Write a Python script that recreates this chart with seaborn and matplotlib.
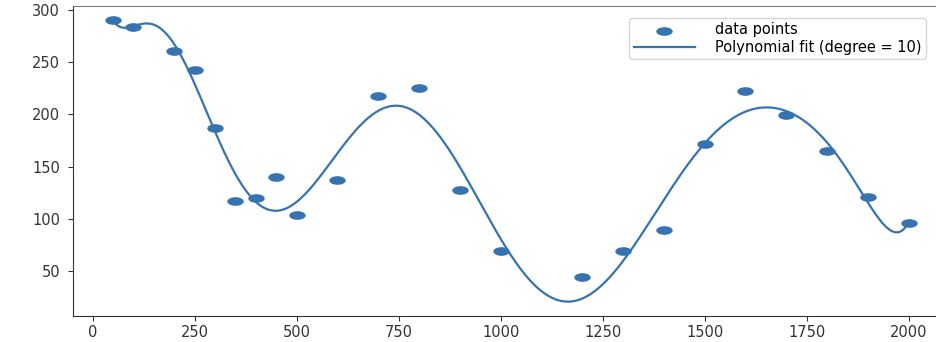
import numpy as np
import pandas as pd
import matplotlib
matplotlib.use("Agg")
import matplotlib.pyplot as plt
from matplotlib.path import Path
from matplotlib.transforms import Affine2D
import seaborn as sns

# data points
x_vals = [50, 100, 200, 250, 300, 350, 400, 450, 500, 600, 700, 800,
          900, 1000, 1200, 1300, 1400, 1500, 1600, 1700, 1800, 1900, 2000]
y_vals = [290, 284, 261, 242, 187, 117, 120, 140, 104, 137, 218, 225,
          128, 69, 45, 69, 89, 172, 222, 199, 165, 121, 96]
degree = 10

df = pd.DataFrame({"x": x_vals, "y": y_vals})

# polynomial fit through the points
poly = np.polynomial.Polynomial.fit(df["x"], df["y"], degree)
x_fit = np.linspace(min(x_vals), max(x_vals), 400)
fit_df = pd.DataFrame({"x": x_fit, "y": poly(x_fit)})

color = "#3773b0"

# the reference is horizontally stretched, so use a flattened marker
ellipse = Path.unit_circle().transformed(Affine2D().scale(1.9, 1.0))

fig = plt.figure(figsize=(9.36, 3.42), dpi=100)
ax = fig.add_axes([0.0783, 0.0769, 0.935, 0.905])

sns.scatterplot(data=df, x="x", y="y", ax=ax, color=color, marker=ellipse,
                s=140, linewidth=0, label="data points", zorder=3)
sns.lineplot(data=fit_df, x="x", y="y", ax=ax, color=color, linewidth=1.6,
             estimator=None, sort=True, label=f"Polynomial fit (degree = {degree})")

ax.set_xlabel("")
ax.set_ylabel("")
ax.set_xticks([0, 250, 500, 750, 1000, 1250, 1500, 1750, 2000])
ax.set_yticks([50, 100, 150, 200, 250, 300])
ax.tick_params(labelsize=10.5, colors="#333333")
ax.tick_params(axis="y", pad=6)
for side in ["left", "bottom"]:
    ax.spines[side].set_color("#333333")
for side in ["top", "right"]:
    ax.spines[side].set_color("#777777")

ax.legend(loc="upper right", fontsize=10.5, bbox_to_anchor=(0.983, 0.985),
          handlelength=4.2, handletextpad=1.4, labelspacing=0.15,
          borderpad=0.3)

fig.savefig("out.png", dpi=100)
